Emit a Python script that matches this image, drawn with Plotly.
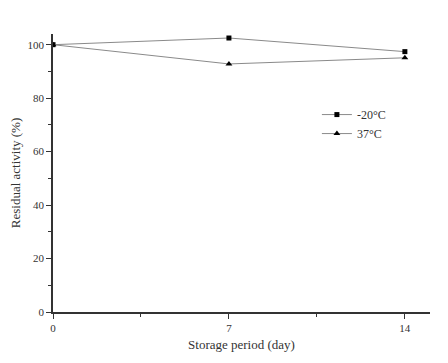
import plotly.graph_objects as go

days = [0, 7, 14]
minus20 = [100, 102.5, 97.4]
plus37 = [100, 92.8, 95.1]
series_names = ["-20°C", "37°C"]
x_ticks = [0, 7, 14]
y_ticks = [0, 20, 40, 60, 80, 100]

font_family = "Liberation Serif, Times New Roman, serif"

fig = go.Figure()
fig.add_trace(go.Scatter(
    x=days, y=minus20, name=series_names[0], mode="lines+markers",
    line=dict(color="#8a8a8a", width=1),
    marker=dict(symbol="square", size=5, color="black"),
))
fig.add_trace(go.Scatter(
    x=days, y=plus37, name=series_names[1], mode="lines+markers",
    line=dict(color="#8a8a8a", width=1),
    marker=dict(symbol="triangle-up", size=6, color="black"),
))

axis_common = dict(
    showline=True, linecolor="#333", linewidth=1.5,
    ticks="outside", ticklen=5, tickwidth=1.2, tickcolor="#333",
    showgrid=False, zeroline=False, mirror=False, automargin=False,
    tickfont=dict(family=font_family, size=11, color="#333"),
)

fig.update_layout(
    width=448, height=363,
    margin=dict(l=45, r=26, t=26, b=59),
    paper_bgcolor="white", plot_bgcolor="white",
    font=dict(family=font_family, color="#333"),
    xaxis=dict(range=[0, 15], tickvals=x_ticks, ticklabelstandoff=0,
               title=dict(text="Storage period (day)", font=dict(family=font_family, size=13), standoff=7),
               minor=dict(ticks="outside", ticklen=3, tickwidth=1, tickcolor="#333", tickvals=[3.5, 10.5]),
               **axis_common),
    yaxis=dict(range=[0, 104], tickvals=y_ticks,
               title=dict(text="Residual activity (%)", font=dict(family=font_family, size=13), standoff=7),
               minor=dict(ticks="outside", ticklen=3, tickwidth=1, tickcolor="#333", tickvals=[10, 30, 50, 70, 90]),
               **axis_common),
    showlegend=True,
    legend=dict(x=0.70, y=0.676, xanchor="left", yanchor="middle",
                bgcolor="rgba(0,0,0,0)", font=dict(family=font_family, size=12, color="#333"),
                itemwidth=30, tracegroupgap=0),
)

fig.write_html("out.html")
